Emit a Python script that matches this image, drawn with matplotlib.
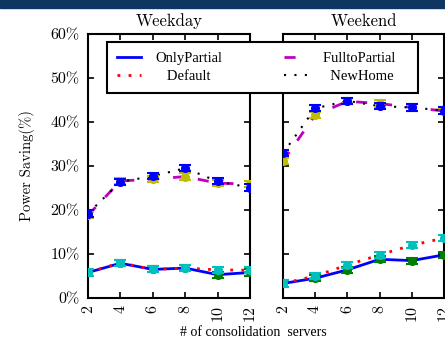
import matplotlib
matplotlib.use("Agg")
import matplotlib.pyplot as plt
from matplotlib.patches import Rectangle
from matplotlib.ticker import FuncFormatter

# --- data ---
servers = [2, 4, 6, 8, 10, 12]

weekday_only = [5.8, 7.9, 6.5, 6.8, 5.3, 5.8]
weekday_default = [5.8, 8.0, 6.5, 6.8, 6.4, 6.3]
weekday_full = [18.8, 26.6, 27.0, 27.6, 26.1, 25.9]
weekday_newhome = [19.2, 26.4, 27.7, 29.5, 26.5, 25.1]

weekend_only = [3.3, 4.5, 6.4, 8.8, 8.5, 9.8]
weekend_default = [3.3, 5.0, 7.5, 9.8, 12.0, 13.6]
weekend_full = [31.1, 41.6, 44.7, 44.2, 43.3, 42.5]
weekend_newhome = [32.9, 43.1, 44.8, 43.6, 43.3, 42.6]

err = 0.7
panel_titles = ["Weekday", "Weekend"]
series_names = ["OnlyPartial", "Default", "FulltoPartial", "NewHome"]
# padded so the labels sit centred in their legend columns
legend_labels = ["OnlyPartial", "   Default   ", "FulltoPartial  ", "  NewHome    "]

CM = "cmr10"
SERIF = ["Liberation Serif", "DejaVu Serif"]

fig = plt.figure(figsize=(4.45, 3.47), dpi=100)

# dark banner at the top of the screenshot
fig.patches.append(Rectangle((0, 1 - 8 / 347), 1, 8 / 347, transform=fig.transFigure,
                             color="#0f3561", zorder=0))

ax1 = fig.add_axes([88 / 445, 49 / 347, 162 / 445, 264 / 347])
ax2 = fig.add_axes([283 / 445, 49 / 347, 161 / 445, 264 / 347])

panels = [
    (ax1, weekday_only, weekday_default, weekday_full, weekday_newhome),
    (ax2, weekend_only, weekend_default, weekend_full, weekend_newhome),
]

eb = dict(fmt="o", ms=5.5, capsize=4, capthick=1.5, elinewidth=1.5)
handles = None
for i, (ax, only, default, full, newhome) in enumerate(panels):
    h1, = ax.plot(servers, only, color="b", lw=2, zorder=3)
    h2, = ax.plot(servers, default, color="r", lw=2, ls=(0, (1, 3)), zorder=3)
    h3, = ax.plot(servers, full, color="m", lw=2, ls=(0, (4, 5)), zorder=3)
    h4, = ax.plot(servers, newhome, color="k", lw=1.5, ls=(0, (1, 4)), zorder=3)
    handles = [h1, h2, h3, h4]

    ax.errorbar(servers, full, yerr=err, color="y", zorder=4, **eb)
    ax.errorbar(servers, newhome, yerr=err, color="b", zorder=5, **eb)
    ax.errorbar(servers, only, yerr=err, color="g", zorder=4, **eb)
    ax.errorbar(servers, default, yerr=err, color="c", zorder=5, **eb)

    ax.set_xlim(2, 12)
    ax.set_ylim(0, 60)
    ax.set_xticks(servers)
    ax.set_yticks(range(0, 61, 10))
    ax.tick_params(direction="in", top=True, right=True, length=4, width=1.2,
                   labelsize=11.5)
    ax.tick_params(axis="x", pad=5)
    ax.tick_params(axis="y", pad=6)
    for lab in ax.get_xticklabels():
        lab.set_rotation(90)
        lab.set_family(CM)
    for sp in ax.spines.values():
        sp.set_linewidth(1.5)
    ax.set_title(panel_titles[i], family=CM, fontsize=12, pad=6)

ax1.yaxis.set_major_formatter(FuncFormatter(lambda v, p: "%d%%" % v))
for lab in ax1.get_yticklabels():
    lab.set_family(CM)
ax2.tick_params(labelleft=False)
ax1.set_ylabel("Power Saving(%)", family=CM, fontsize=10.5)
ax1.yaxis.set_label_coords(-0.33, 0.5)

fig.text(253 / 445, 1 - 333 / 347, "# of consolidation  servers", family=SERIF,
         fontsize=10, ha="center", va="center")

leg = fig.legend(handles, legend_labels, ncol=2, loc="upper left",
                 bbox_to_anchor=(107 / 445, 1 - 42 / 347), prop={"family": SERIF, "size": 10.5},
                 frameon=True, fancybox=False, edgecolor="k", framealpha=1,
                 handlelength=1.65, columnspacing=4.2, borderpad=0.7, labelspacing=0.3,
                 handletextpad=1.0, borderaxespad=0)
leg.get_frame().set_linewidth(1.5)
leg.set_zorder(10)

fig.savefig("out.png", dpi=100)
